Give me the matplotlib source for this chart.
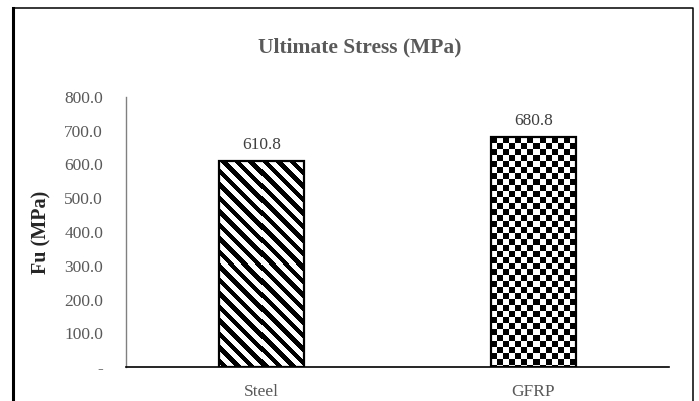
import numpy as np
import matplotlib
matplotlib.use("Agg")
import matplotlib.pyplot as plt
from matplotlib.lines import Line2D

# Ultimate stress results
materials = ["Steel", "GFRP"]
fu_values = [610.8, 680.8]
y_ticks = [0, 100, 200, 300, 400, 500, 600, 700, 800]

plt.rcParams["font.family"] = ["Liberation Serif", "DejaVu Serif"]

W, H = 699, 401
fig = plt.figure(figsize=(W / 100, H / 100), dpi=100)
ax = fig.add_axes([126 / W, 1 - 367 / H, (669 - 126) / W, (367 - 97) / H])

x = np.arange(len(materials))
bars = ax.bar(x, fu_values, width=0.314, fill=False, edgecolor="black",
              linewidth=1.6, zorder=3)

ax.set_xlim(-0.5, len(materials) - 0.5)
ax.set_ylim(0, 800)


def stripes(h, w, period=13.5, frac=0.48):
    i, j = np.mgrid[0:h, 0:w]
    return np.where(((j - i) % period) < period * frac, 0.0, 1.0)


def checker(h, w, cell=6.0):
    i, j = np.mgrid[0:h, 0:w]
    return np.where(((i // cell + j // cell) % 2) == 0, 0.0, 1.0)


# fill each bar with its texture, clipped to the bar outline
for bar, tex in zip(bars, [stripes, checker]):
    x0, x1 = bar.get_x(), bar.get_x() + bar.get_width()
    y1 = bar.get_height()
    (px0, py0), (px1, py1) = ax.transData.transform([(x0, 0), (x1, y1)])
    img = tex(int(round(py1 - py0)), int(round(px1 - px0)))
    im = ax.imshow(img, cmap="gray", vmin=0, vmax=1, extent=(x0, x1, 0, y1),
                   aspect="auto", interpolation="nearest", zorder=2)
    im.set_clip_path(bar)

ax.set_xlim(-0.5, len(materials) - 0.5)
ax.set_ylim(0, 800)

for xi, v in zip(x, fu_values):
    ax.annotate(f"{v:.1f}", (xi, v), xytext=(0, 6), textcoords="offset points",
                ha="center", va="bottom", fontsize=12.5, color="#404040")

ax.set_yticks(y_ticks)
ax.set_yticklabels(["-" if t == 0 else f"{t:.1f}" for t in y_ticks])
ax.set_xticks(x)
ax.set_xticklabels(materials)
ax.tick_params(axis="y", length=0, pad=16.5, labelsize=12.5, labelcolor="#595959")
ax.tick_params(axis="x", length=0, pad=12, labelsize=12.5, labelcolor="#595959")

for s in ["top", "right"]:
    ax.spines[s].set_visible(False)
ax.spines["left"].set_color("#808080")
ax.spines["left"].set_linewidth(1.0)
ax.spines["bottom"].set_color("black")
ax.spines["bottom"].set_linewidth(1.2)

ax.set_ylabel("Fu (MPa)", fontsize=14.5, fontweight="bold", color="#262626")
ax.yaxis.set_label_coords(-0.138, 0.5)
fig.text(360 / W, 1 - 47 / H, "Ultimate Stress (MPa)", ha="center", va="center",
         fontsize=15.5, fontweight="bold", color="#595959")

# chart frame (bottom edge falls outside the image)
fig.add_artist(Line2D([13 / W, 13 / W], [0, 1 - 8 / H], color="black", lw=2.2,
                      transform=fig.transFigure))
fig.add_artist(Line2D([13 / W, 693 / W, 693 / W], [1 - 8 / H, 1 - 8 / H, 0],
                      color="black", lw=1.1, transform=fig.transFigure))

fig.savefig("out.png", dpi=100)
